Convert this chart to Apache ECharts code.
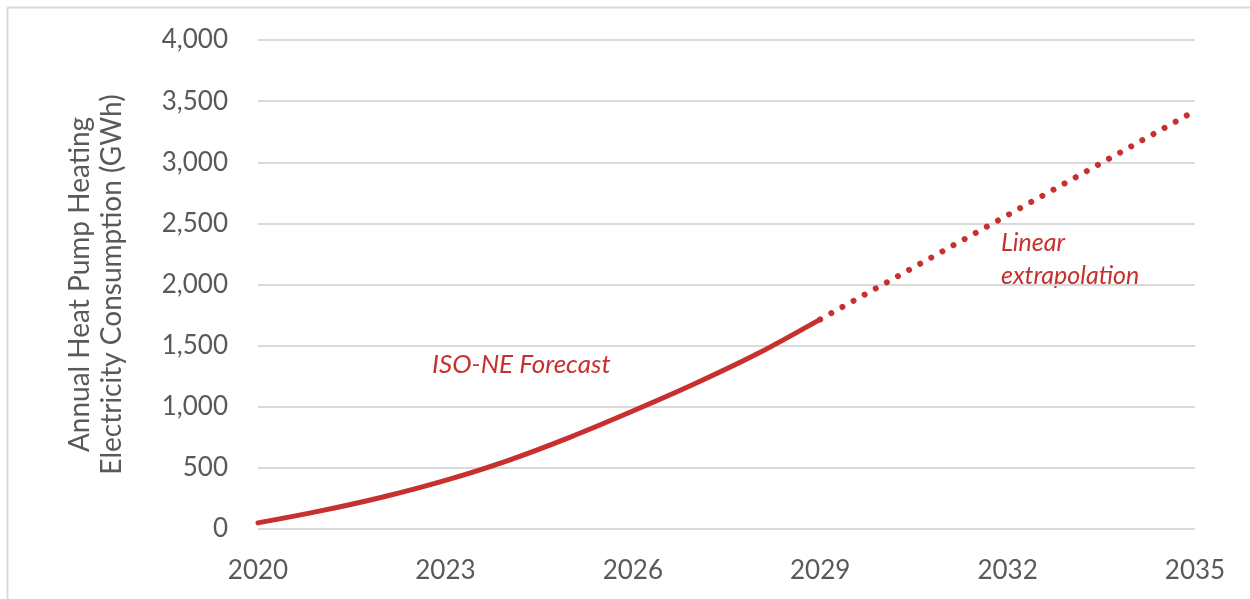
<!DOCTYPE html>
<html>
<head>
<meta charset="utf-8">
<script src="https://cdn.jsdelivr.net/npm/echarts@6/dist/echarts.min.js"></script>
<style>
  html, body { margin: 0; padding: 0; background: #fff; }
  #chart { width: 1250px; height: 599px; }
</style>
</head>
<body>
<div id="chart"></div>
<script>
const years = ['2020','2021','2022','2023','2024','2025','2026','2027','2028','2029','2030','2031','2032','2033','2034','2035'];
const forecast = [50, 148, 262, 398, 560, 752, 965, 1190, 1435, 1715, null, null, null, null, null, null];
const extrapolation = [null, null, null, null, null, null, null, null, null, 1715, null, null, null, null, null, 3420];
const yTicks = [0, 500, 1000, 1500, 2000, 2500, 3000, 3500, 4000];
const yName = 'Annual Heat Pump Heating\nElectricity Consumption (GWh)';
const labelForecast = 'ISO-NE Forecast';
const labelExtrap = 'Linear\nextrapolation';

const RED = '#c8302f';
const GRAY_TXT = '#595959';
const FONT = 'Lato';

const chart = echarts.init(document.getElementById('chart'));
chart.setOption({
  animation: false,
  backgroundColor: '#fff',
  grid: { left: 258, right: 55, top: 40, bottom: 70 },
  xAxis: {
    type: 'category',
    data: years,
    boundaryGap: false,
    axisLine: { show: false },
    axisTick: { show: false },
    axisLabel: { interval: 2, color: GRAY_TXT, fontFamily: FONT, fontSize: 26, margin: 29 },
    splitLine: { show: false }
  },
  yAxis: {
    type: 'value',
    min: yTicks[0],
    max: yTicks[yTicks.length - 1],
    interval: 500,
    name: yName,
    nameLocation: 'middle',
    nameGap: 130,
    nameTextStyle: { color: GRAY_TXT, fontFamily: FONT, fontSize: 28, lineHeight: 32 },
    axisLine: { show: false },
    axisTick: { show: false },
    axisLabel: {
      color: GRAY_TXT, fontFamily: FONT, fontSize: 26, margin: 30,
      formatter: v => v.toLocaleString('en-US')
    },
    splitLine: { show: true, lineStyle: { color: '#d9d9d9', width: 2 } }
  },
  series: [
    {
      name: 'ISO-NE Forecast',
      type: 'line',
      data: forecast,
      smooth: 0.3,
      showSymbol: false,
      symbol: 'none',
      lineStyle: { color: RED, width: 5, cap: 'round' }
    },
    {
      name: 'Linear extrapolation',
      type: 'line',
      data: extrapolation,
      connectNulls: true,
      showSymbol: false,
      symbol: 'none',
      lineStyle: { color: RED, width: 6, type: [0.01, 12.7], cap: 'round' }
    }
  ],
  graphic: [
    { type: 'line', shape: { x1: 7.5, y1: 7.5, x2: 1250, y2: 7.5 }, style: { stroke: '#d9d9d9', lineWidth: 2 } },
    { type: 'line', shape: { x1: 7.5, y1: 7.5, x2: 7.5, y2: 599 }, style: { stroke: '#d9d9d9', lineWidth: 2 } },
    { type: 'text', left: 432, top: 352, style: { text: labelForecast, fill: RED, font: 'italic 26px Lato' } },
    { type: 'text', left: 1001, top: 226, style: { text: labelExtrap, fill: RED, font: 'italic 25px Lato', lineHeight: 33 } }
  ]
});
</script>
</body>
</html>
